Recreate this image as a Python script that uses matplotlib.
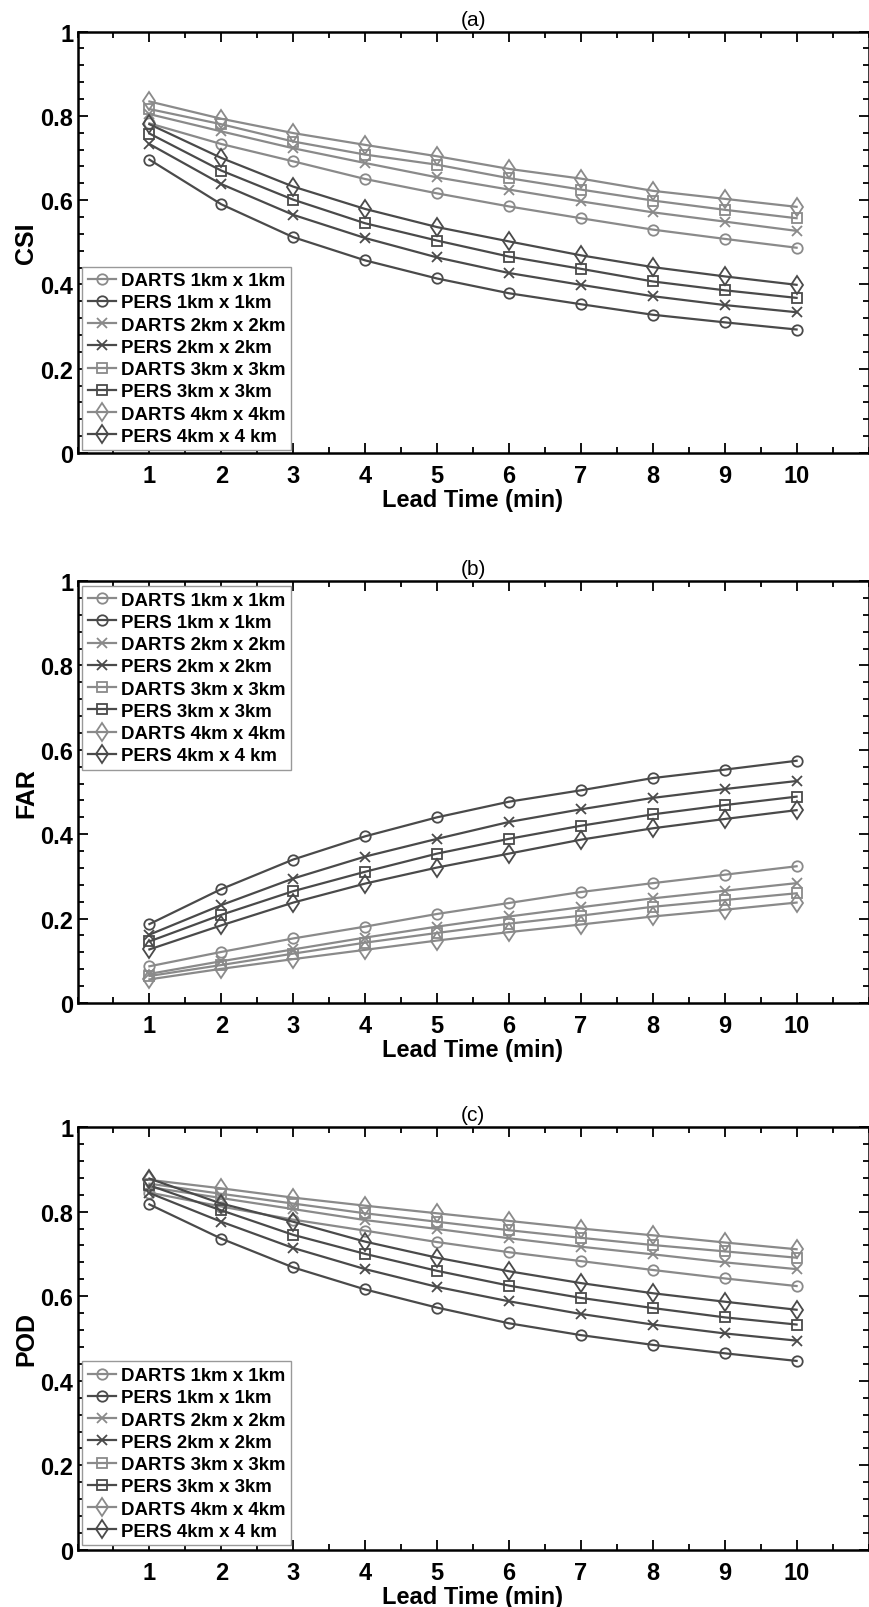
import matplotlib
matplotlib.use("Agg")
import matplotlib.pyplot as plt
from matplotlib.ticker import MultipleLocator, FixedLocator

plt.rcParams['font.family'] = ['Liberation Sans', 'DejaVu Sans']

lead_time = [1, 2, 3, 4, 5, 6, 7, 8, 9, 10]
x_ticks = [1, 2, 3, 4, 5, 6, 7, 8, 9, 10]
y_ticks = [0, 0.2, 0.4, 0.6, 0.8, 1]
y_tick_labels = ['0', '0.2', '0.4', '0.6', '0.8', '1']

series_labels = ['DARTS 1km x 1km', 'PERS 1km x 1km',
                 'DARTS 2km x 2km', 'PERS 2km x 2km',
                 'DARTS 3km x 3km', 'PERS 3km x 3km',
                 'DARTS 4km x 4km', 'PERS 4km x 4 km']

# Critical Success Index
darts_1km_csi = [0.782, 0.733, 0.692, 0.650, 0.616, 0.585, 0.557, 0.530, 0.508, 0.487]
pers_1km_csi = [0.696, 0.590, 0.512, 0.457, 0.414, 0.379, 0.353, 0.328, 0.310, 0.293]
darts_2km_csi = [0.804, 0.763, 0.723, 0.688, 0.654, 0.625, 0.597, 0.571, 0.549, 0.527]
pers_2km_csi = [0.733, 0.638, 0.565, 0.510, 0.464, 0.427, 0.399, 0.372, 0.351, 0.334]
darts_3km_csi = [0.816, 0.780, 0.739, 0.708, 0.684, 0.652, 0.625, 0.599, 0.577, 0.557]
pers_3km_csi = [0.758, 0.670, 0.601, 0.545, 0.504, 0.466, 0.437, 0.407, 0.386, 0.368]
darts_4km_csi = [0.834, 0.793, 0.759, 0.731, 0.704, 0.674, 0.651, 0.622, 0.603, 0.584]
pers_4km_csi = [0.780, 0.700, 0.632, 0.579, 0.536, 0.502, 0.469, 0.441, 0.419, 0.399]

# False Alarm Ratio
darts_1km_far = [0.087, 0.121, 0.153, 0.181, 0.211, 0.237, 0.263, 0.284, 0.304, 0.324]
pers_1km_far = [0.187, 0.270, 0.340, 0.395, 0.440, 0.477, 0.504, 0.533, 0.553, 0.574]
darts_2km_far = [0.069, 0.099, 0.127, 0.155, 0.181, 0.205, 0.227, 0.248, 0.266, 0.284]
pers_2km_far = [0.162, 0.232, 0.295, 0.347, 0.389, 0.429, 0.459, 0.486, 0.507, 0.526]
darts_3km_far = [0.064, 0.090, 0.117, 0.143, 0.166, 0.188, 0.207, 0.228, 0.244, 0.260]
pers_3km_far = [0.146, 0.209, 0.265, 0.311, 0.354, 0.389, 0.420, 0.447, 0.469, 0.489]
darts_4km_far = [0.056, 0.081, 0.104, 0.126, 0.148, 0.168, 0.186, 0.205, 0.221, 0.238]
pers_4km_far = [0.127, 0.184, 0.238, 0.283, 0.321, 0.354, 0.387, 0.414, 0.436, 0.457]

# Probability of Detection
darts_1km_pod = [0.845, 0.812, 0.781, 0.755, 0.728, 0.704, 0.683, 0.662, 0.642, 0.624]
pers_1km_pod = [0.817, 0.736, 0.668, 0.616, 0.573, 0.536, 0.508, 0.485, 0.465, 0.447]
darts_2km_pod = [0.858, 0.832, 0.806, 0.780, 0.759, 0.737, 0.717, 0.699, 0.680, 0.664]
pers_2km_pod = [0.844, 0.776, 0.714, 0.664, 0.622, 0.588, 0.558, 0.533, 0.512, 0.495]
darts_3km_pod = [0.866, 0.842, 0.819, 0.796, 0.776, 0.756, 0.738, 0.721, 0.706, 0.691]
pers_3km_pod = [0.862, 0.803, 0.745, 0.700, 0.660, 0.625, 0.596, 0.572, 0.550, 0.533]
darts_4km_pod = [0.875, 0.855, 0.833, 0.814, 0.796, 0.778, 0.760, 0.744, 0.727, 0.711]
pers_4km_pod = [0.878, 0.819, 0.776, 0.729, 0.691, 0.659, 0.631, 0.607, 0.587, 0.568]

csi_series = [darts_1km_csi, pers_1km_csi, darts_2km_csi, pers_2km_csi,
              darts_3km_csi, pers_3km_csi, darts_4km_csi, pers_4km_csi]
far_series = [darts_1km_far, pers_1km_far, darts_2km_far, pers_2km_far,
              darts_3km_far, pers_3km_far, darts_4km_far, pers_4km_far]
pod_series = [darts_1km_pod, pers_1km_pod, darts_2km_pod, pers_2km_pod,
              darts_3km_pod, pers_3km_pod, darts_4km_pod, pers_4km_pod]

DARTS_COLOR = '#8a8a8a'
PERS_COLOR = '#4a4a4a'
series_styles = [
    dict(color=DARTS_COLOR, marker='o', ms=7.5),
    dict(color=PERS_COLOR, marker='o', ms=7.5),
    dict(color=DARTS_COLOR, marker='x', ms=7.0),
    dict(color=PERS_COLOR, marker='x', ms=7.0),
    dict(color=DARTS_COLOR, marker='s', ms=6.5),
    dict(color=PERS_COLOR, marker='s', ms=6.5),
    dict(color=DARTS_COLOR, marker='d', ms=9.5),
    dict(color=PERS_COLOR, marker='d', ms=9.5),
]

W, H = 869, 1608
fig = plt.figure(figsize=(W / 100, H / 100), dpi=100)
fig.patch.set_facecolor('white')

LEFT, RIGHT = 77.5, 868.5


def rect(top, bottom):
    return [LEFT / W, 1 - bottom / H, (RIGHT - LEFT) / W, (bottom - top) / H]


panels = [
    ('(a)', 'CSI', csi_series, rect(32.5, 454), 'lower left', (0.006, 0.006)),
    ('(b)', 'FAR', far_series, rect(582, 1004), 'upper left', (0.006, 0.988)),
    ('(c)', 'POD', pod_series, rect(1128, 1551), 'lower left', (0.006, 0.011)),
]

for title, ylabel, series, r, loc, anchor in panels:
    ax = fig.add_axes(r)
    for label, values, st in zip(series_labels, series, series_styles):
        ax.plot(lead_time, values, color=st['color'], lw=1.6,
                marker=st['marker'], ms=st['ms'], mfc='none',
                mec=st['color'], mew=1.3, label=label)

    ax.set_xlim(0, 11)
    ax.set_ylim(0, 1)
    ax.xaxis.set_major_locator(FixedLocator(x_ticks))
    ax.xaxis.set_minor_locator(MultipleLocator(0.5))
    ax.set_yticks(y_ticks)
    ax.set_yticklabels(y_tick_labels)
    ax.yaxis.set_minor_locator(MultipleLocator(0.04))

    ax.tick_params(which='both', direction='in', top=True, right=True,
                   width=1.3, colors='black')
    ax.tick_params(which='major', length=7)
    ax.tick_params(which='minor', length=4)
    ax.tick_params(axis='x', which='major', pad=8, labelsize=17)
    ax.tick_params(axis='y', which='major', pad=3, labelsize=17)
    for lab in ax.get_xticklabels() + ax.get_yticklabels():
        lab.set_fontweight('bold')

    for sp in ax.spines.values():
        sp.set_linewidth(1.8)

    ax.set_title(title, fontsize=15, pad=5)
    ax.set_xlabel('Lead Time (min)', fontsize=17, fontweight='bold', labelpad=1)
    ax.set_ylabel(ylabel, fontsize=18, fontweight='bold', labelpad=1.5)

    leg = ax.legend(loc=loc, bbox_to_anchor=anchor, borderaxespad=0,
                    prop=dict(size=13.4, weight='bold'), fancybox=False,
                    framealpha=1, edgecolor='#999999', handlelength=1.5,
                    handletextpad=0.3, labelspacing=0.28, borderpad=0.3)
    leg.get_frame().set_linewidth(1.0)

fig.savefig('out.png', dpi=100, facecolor='white')
